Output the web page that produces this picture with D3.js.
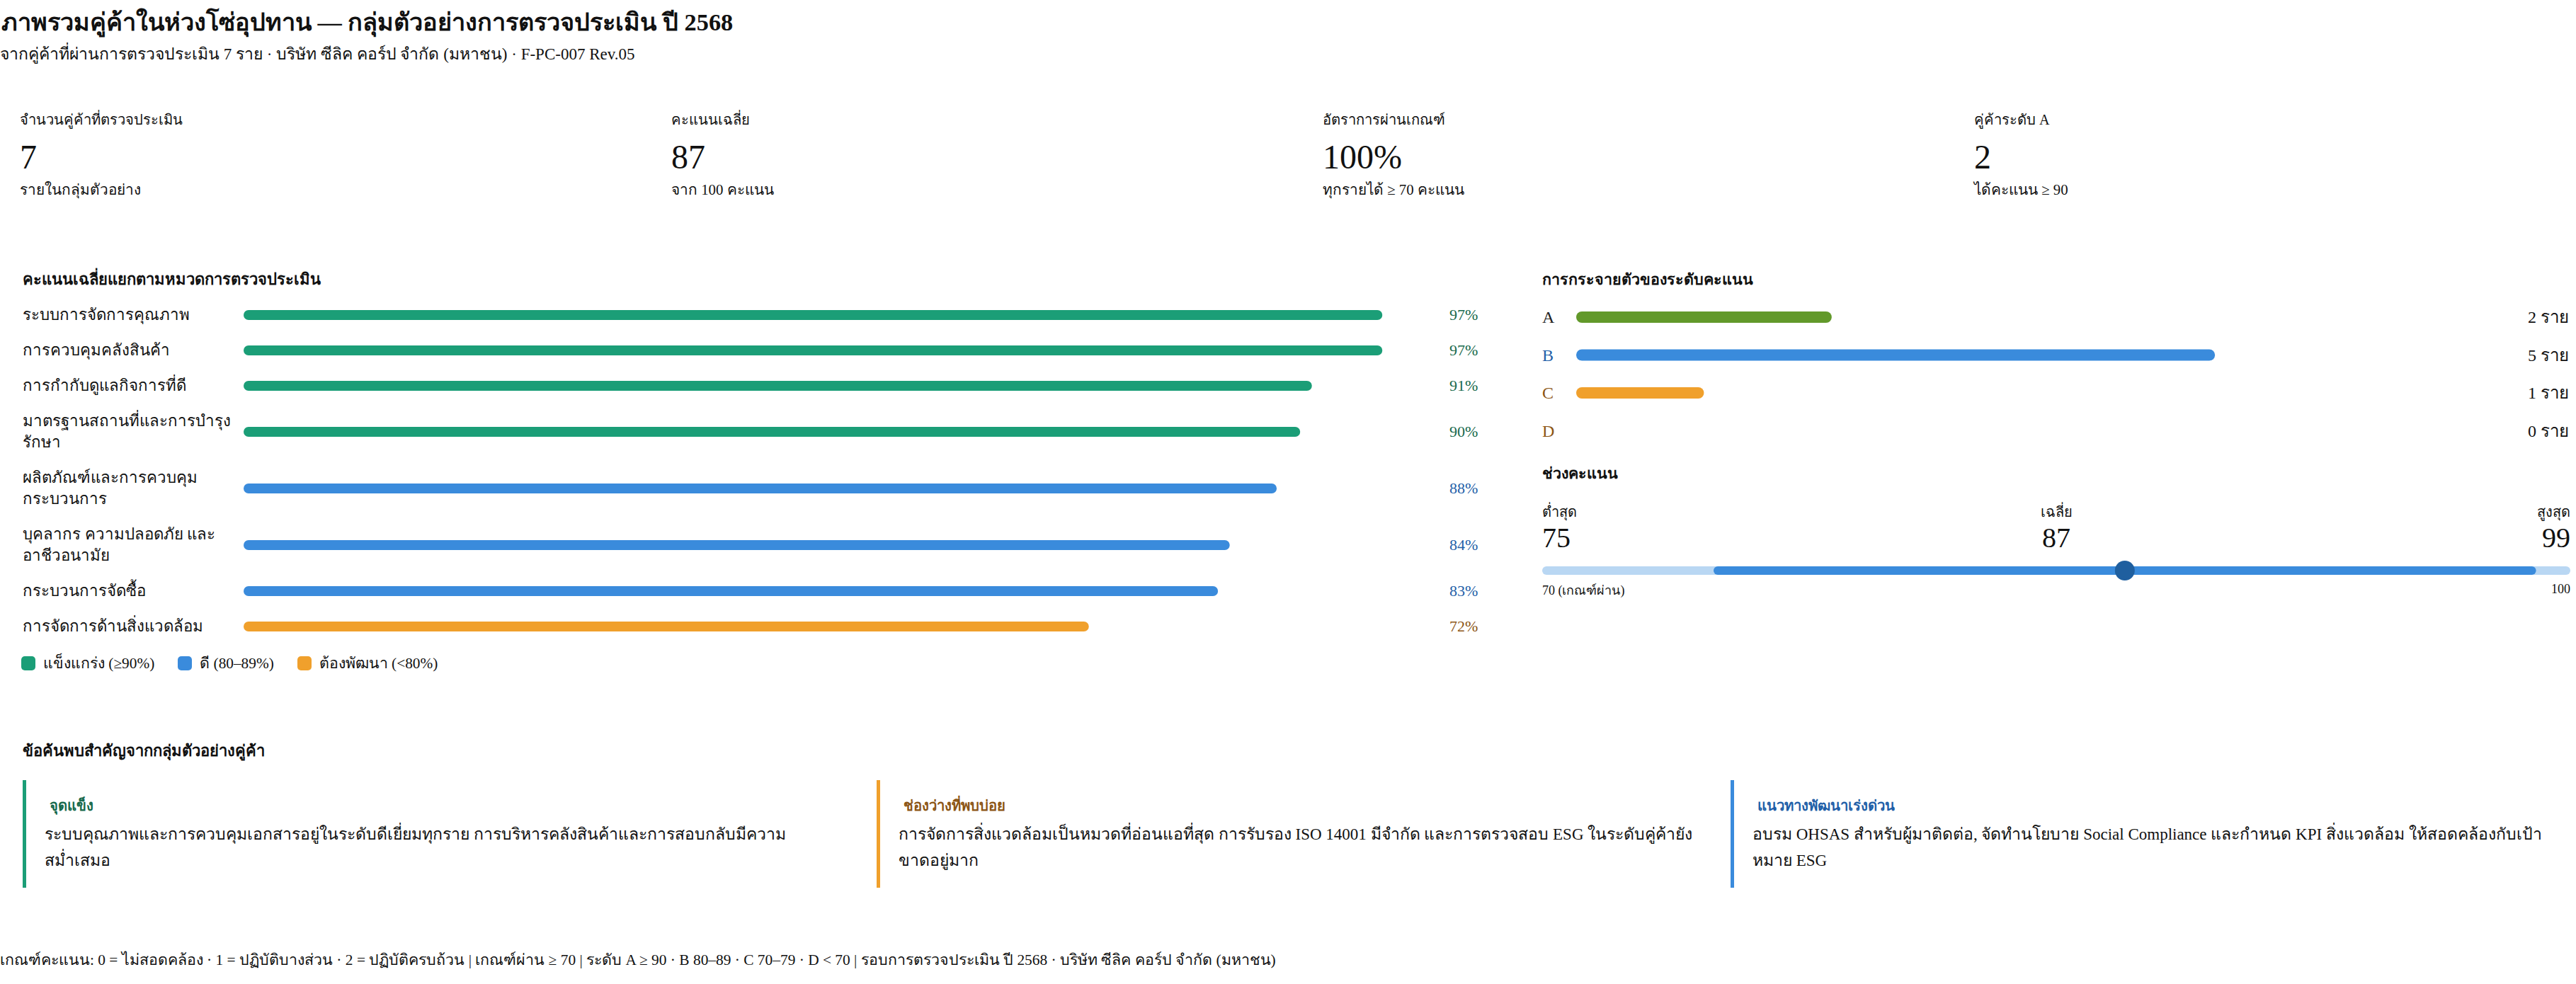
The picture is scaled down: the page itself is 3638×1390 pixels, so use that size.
<!DOCTYPE html>
<html><head><meta charset="utf-8">
<script src="https://cdn.jsdelivr.net/npm/d3@7"></script>
<style>
html,body{margin:0;padding:0;background:#fff;}
body{width:3638px;height:1390px;position:relative;overflow:hidden;font-family:"Liberation Serif","Times New Roman",serif;color:#111;}
.t{position:absolute;white-space:nowrap;}
svg{display:block;overflow:visible;}
</style></head><body>
<script>
// ---------- data ----------
const titleText = "ภาพรวมคู่ค้าในห่วงโซ่อุปทาน — กลุ่มตัวอย่างการตรวจประเมิน ปี 2568";
const subtitleText = "จากคู่ค้าที่ผ่านการตรวจประเมิน 7 ราย · บริษัท ซีลิค คอร์ป จำกัด (มหาชน) · F-PC-007 Rev.05";
const kpiLabels = ["จำนวนคู่ค้าที่ตรวจประเมิน", "คะแนนเฉลี่ย", "อัตราการผ่านเกณฑ์", "คู่ค้าระดับ A"];
const kpiValues = ["7", "87", "100%", "2"];
const kpiSubs = ["รายในกลุ่มตัวอย่าง", "จาก 100 คะแนน", "ทุกรายได้ ≥ 70 คะแนน", "ได้คะแนน ≥ 90"];
const categoryTitle = "คะแนนเฉลี่ยแยกตามหมวดการตรวจประเมิน";
const categories = ["ระบบการจัดการคุณภาพ", "การควบคุมคลังสินค้า", "การกำกับดูแลกิจการที่ดี", "มาตรฐานสถานที่และการบำรุงรักษา", "ผลิตภัณฑ์และการควบคุมกระบวนการ", "บุคลากร ความปลอดภัย และอาชีวอนามัย", "กระบวนการจัดซื้อ", "การจัดการด้านสิ่งแวดล้อม"];
const categoryScores = [97, 97, 91, 90, 88, 84, 83, 72];
const legendLabels = ["แข็งแกร่ง (≥90%)", "ดี (80–89%)", "ต้องพัฒนา (<80%)"];
const gradeTitle = "การกระจายตัวของระดับคะแนน";
const grades = ["A", "B", "C", "D"];
const gradeCounts = [2, 5, 1, 0];
const gradeUnit = "ราย";
const totalSuppliers = 7;
const rangeTitle = "ช่วงคะแนน";
const rangeLabels = ["ต่ำสุด", "เฉลี่ย", "สูงสุด"];
const rangeValues = [75, 87, 99];
const rangeAxis = [70, 100];
const rangeAxisLabels = ["70 (เกณฑ์ผ่าน)", "100"];
const findingsTitle = "ข้อค้นพบสำคัญจากกลุ่มตัวอย่างคู่ค้า";
const findingHeads = ["จุดแข็ง", "ช่องว่างที่พบบ่อย", "แนวทางพัฒนาเร่งด่วน"];
const findingTexts = [
  "ระบบคุณภาพและการควบคุมเอกสารอยู่ในระดับดีเยี่ยมทุกราย การบริหารคลังสินค้าและการสอบกลับมีความสม่ำเสมอ",
  "การจัดการสิ่งแวดล้อมเป็นหมวดที่อ่อนแอที่สุด การรับรอง ISO 14001 มีจำกัด และการตรวจสอบ ESG ในระดับคู่ค้ายังขาดอยู่มาก",
  "อบรม OHSAS สำหรับผู้มาติดต่อ, จัดทำนโยบาย Social Compliance และกำหนด KPI สิ่งแวดล้อม ให้สอดคล้องกับเป้าหมาย ESG"
];
const footerText = "เกณฑ์คะแนน: 0 = ไม่สอดคล้อง · 1 = ปฏิบัติบางส่วน · 2 = ปฏิบัติครบถ้วน | เกณฑ์ผ่าน ≥ 70 | ระดับ A ≥ 90 · B 80–89 · C 70–79 · D < 70 | รอบการตรวจประเมิน ปี 2568 · บริษัท ซีลิค คอร์ป จำกัด (มหาชน)";

// ---------- styles ----------
const C = {green:"#1b9e77", blue:"#3a8bdc", orange:"#f0a02c", olive:"#62992a",
  greenT:"#17694c", blueT:"#1f5fa8", orangeT:"#8c5514", track:"#b9d7f3", marker:"#1f5f9f"};
const tierColor = v => v >= 90 ? C.green : v >= 80 ? C.blue : C.orange;
const tierText = v => v >= 90 ? C.greenT : v >= 80 ? C.blueT : C.orangeT;
const gradeColor = [C.olive, C.blue, C.orange, C.orange];
const gradeTextColor = ["#222", C.blueT, C.orangeT, C.orangeT];

const body = d3.select("body");
function txt(str, x, cy, size, lh, opts={}) {
  const d = body.append("div").attr("class","t").text(str)
    .style("left", x+"px").style("top", (cy - lh/2)+"px")
    .style("font-size", size+"px").style("line-height", lh+"px")
    .style("font-weight", opts.weight || "normal").style("color", opts.color || "#111");
  if (opts.anchor === "end") d.style("transform","translateX(-100%)");
  if (opts.anchor === "middle") d.style("transform","translateX(-50%)");
  return d;
}

// header
txt(titleText, 2, 31, 34.3, 44, {weight:"bold"});
txt(subtitleText, 0, 77, 23, 30);

// KPIs
const kpiX = d3.scalePoint().domain(d3.range(4)).range([28, 2788]);
kpiLabels.forEach((l,i)=>{
  txt(l, kpiX(i), 169, 20.2, 28);
  txt(kpiValues[i], kpiX(i), 222, 48, 56);
  txt(kpiSubs[i], kpiX(i), 268, 20.8, 28);
});

// category bars
txt(categoryTitle, 32, 395, 22, 28, {weight:"bold"});
const xCat = d3.scaleLinear().domain([0,100]).range([0,1658]);
const rows = body.append("div").style("position","absolute").style("left","32px").style("top","420px")
  .selectAll("div.row").data(categories.map((c,i)=>({c, v:categoryScores[i]})))
  .join("div").attr("class","row")
  .style("display","flex").style("align-items","center").style("padding","10px 0");
rows.append("div").text(d=>d.c).style("width","300px").style("font-size","22.3px").style("line-height","30px").style("margin-right","12px");
rows.append("svg").attr("width",1658).attr("height",14)
  .append("rect").attr("x",0).attr("y",0).attr("height",14).attr("rx",7)
  .attr("width",d=>xCat(d.v)).attr("fill",d=>tierColor(d.v));
rows.append("div").text(d=>d.v+"%").style("margin-left","45px").style("font-size","22px")
  .style("line-height","30px").style("color",d=>tierText(d.v));

// legend
const leg = body.append("div").style("position","absolute").style("left","30px").style("top","925px")
  .style("display","flex").style("align-items","center");
const legItems = leg.selectAll("div").data(legendLabels).join("div")
  .style("display","flex").style("align-items","center").style("margin-right","33px");
legItems.append("svg").attr("width",20).attr("height",20).style("margin-right","11px")
  .append("rect").attr("width",20).attr("height",20).attr("rx",5)
  .attr("fill",(d,i)=>[C.green,C.blue,C.orange][i]);
legItems.append("div").text(d=>d).style("font-size","21.3px").style("line-height","24px");

// grade distribution
txt(gradeTitle, 2178, 395, 21.5, 28, {weight:"bold"});
const yG = d3.scalePoint().domain(grades).range([448, 608.5]);
const xG = d3.scaleLinear().domain([0,totalSuppliers]).range([2226, 3489]);
const svgAll = body.append("svg").style("position","absolute").style("left","0").style("top","0")
  .attr("width",3638).attr("height",1390);
svgAll.selectAll("rect.g").data(grades).join("rect").attr("class","g")
  .attr("x",xG(0)).attr("y",g=>yG(g)-8).attr("height",16).attr("rx",8)
  .attr("width",(g,i)=>xG(gradeCounts[i])-xG(0)).attr("fill",(g,i)=>gradeColor[i]);
grades.forEach((g,i)=>{
  txt(g, 2178, yG(g), 24, 30, {color:gradeTextColor[i]});
  txt(gradeCounts[i]+" "+gradeUnit, 3628, yG(g), 24, 30, {anchor:"end"});
});

// range
txt(rangeTitle, 2178, 669, 21.5, 28, {weight:"bold"});
const xR = d3.scaleLinear().domain(rangeAxis).range([2178, 3630]);
const labX = [xR(rangeAxis[0]), (xR(rangeAxis[0])+xR(rangeAxis[1]))/2, xR(rangeAxis[1])];
const anch = ["start","middle","end"];
rangeLabels.forEach((l,i)=>{
  txt(l, labX[i], 723, 20, 28, {anchor:anch[i]});
  txt(String(rangeValues[i]), labX[i], 760, 40, 46, {anchor:anch[i]});
});
svgAll.append("rect").attr("x",xR(rangeAxis[0])).attr("y",800).attr("height",12).attr("rx",6)
  .attr("width",xR(rangeAxis[1])-xR(rangeAxis[0])).attr("fill",C.track);
svgAll.append("rect").attr("x",xR(rangeValues[0])).attr("y",800).attr("height",12).attr("rx",6)
  .attr("width",xR(rangeValues[2])-xR(rangeValues[0])).attr("fill",C.blue);
svgAll.append("circle").attr("cx",xR(rangeValues[1])).attr("cy",806).attr("r",14).attr("fill",C.marker);
txt(rangeAxisLabels[0], xR(rangeAxis[0]), 834, 18, 24);
txt(rangeAxisLabels[1], xR(rangeAxis[1]), 832, 18, 24, {anchor:"end"});

// findings
txt(findingsTitle, 32, 1061, 22, 28, {weight:"bold"});
const cardX = d3.scalePoint().domain(d3.range(3)).range([32, 2444]);
const cardCol = [C.green, C.orange, C.blue];
const cardHead = [C.greenT, C.orangeT, C.blueT];
const cardTextW = [1100, 1140, 1117];
const cardBreak = ["normal", "normal", "break-all"];
findingHeads.forEach((h,i)=>{
  const card = body.append("div").style("position","absolute").style("left",cardX(i)+"px").style("top","1102px")
    .style("width","1186px").style("height","152px").style("box-sizing","border-box")
    .style("border-left","5px solid "+cardCol[i]).style("padding","22px 0 0 26px");
  card.append("div").text(h).style("font-size","20.3px").style("line-height","28px").style("font-weight","bold")
    .style("color",cardHead[i]).style("padding-left","7px").style("margin-bottom","8px");
  card.append("div").text(findingTexts[i]).style("font-size","23px").style("line-height","37px")
    .style("width",cardTextW[i]+"px").style("word-break",cardBreak[i]);
});

// footer
txt(footerText, 0, 1356, 21.4, 28);
</script>
</body></html>
